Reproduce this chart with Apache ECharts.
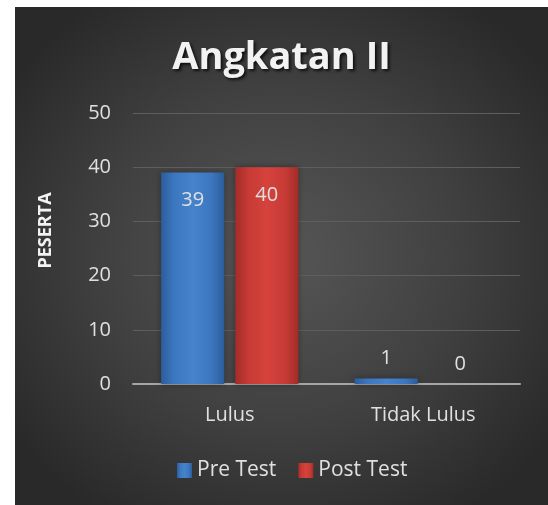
<!DOCTYPE html>
<html>
<head>
<meta charset="utf-8">
<script src="https://cdn.jsdelivr.net/npm/echarts@6/dist/echarts.min.js"></script>
<style>
html,body{margin:0;padding:0;background:#ffffff;width:548px;height:505px;overflow:hidden;}
#chart{position:absolute;left:15px;top:7px;width:533px;height:498px;
background:radial-gradient(ellipse 62% 62% at 50% 50%, #565656 0%, #404040 55%, #292929 100%);}
</style>
</head>
<body>
<div id="chart"></div>
<script>
const title = 'Angkatan II';
const categories = ['Lulus', 'Tidak Lulus'];
const seriesNames = ['Pre Test', 'Post Test'];
const preTest = [39, 1];
const postTest = [40, 0];
const yTicks = [0, 10, 20, 30, 40, 50];
const yAxisName = 'PESERTA';

const chart = echarts.init(document.getElementById('chart'), null, {renderer: 'canvas'});

function barColor(light, mid, dark) {
  return new echarts.graphic.LinearGradient(0, 0, 1, 0, [
    {offset: 0, color: dark},
    {offset: 0.2, color: mid},
    {offset: 0.5, color: light},
    {offset: 0.8, color: mid},
    {offset: 1, color: dark}
  ]);
}

function makeData(values) {
  return values.map(v => ({
    value: v,
    label: v > 5 ? {position: 'insideTop', distance: 18} : {position: 'top', distance: 10}
  }));
}

const labelStyle = {
  show: true,
  color: '#e0e0e0',
  fontSize: 20,
  fontFamily: 'Open Sans'
};

chart.setOption({
  backgroundColor: 'transparent',
  animation: false,
  title: {
    text: title,
    left: 'center',
    top: 27,
    textStyle: {
      color: '#f2f2f2',
      fontSize: 38,
      fontWeight: 'bold',
      fontFamily: 'Open Sans',
      textShadowColor: 'rgba(0,0,0,0.75)',
      textShadowBlur: 3,
      textShadowOffsetX: 2,
      textShadowOffsetY: 2
    }
  },
  legend: {
    data: seriesNames,
    left: 157,
    top: 448,
    icon: 'rect',
    itemWidth: 15,
    itemHeight: 15,
    itemGap: 22,
    textStyle: {color: '#e0e0e0', fontSize: 21, fontFamily: 'Open Sans'}
  },
  grid: {left: 118, right: 28, top: 106, bottom: 121, containLabel: false},
  xAxis: {
    type: 'category',
    data: categories,
    axisLine: {lineStyle: {color: '#a6a6a6', width: 2}},
    axisTick: {show: false},
    axisLabel: {color: '#e0e0e0', fontSize: 20, fontFamily: 'Open Sans', margin: 21}
  },
  yAxis: {
    type: 'value',
    min: yTicks[0],
    max: yTicks[yTicks.length - 1],
    interval: yTicks[1] - yTicks[0],
    name: yAxisName,
    nameLocation: 'middle',
    nameGap: 78,
    nameTextStyle: {color: '#f2f2f2', fontSize: 18, fontWeight: 'bold', fontFamily: 'Open Sans', padding: [0, 0, 0, 36]},
    axisLine: {show: false},
    axisTick: {show: false},
    axisLabel: {color: '#e0e0e0', fontSize: 20, fontFamily: 'Open Sans', margin: 22},
    splitLine: {lineStyle: {color: '#5e5e5e', width: 1}}
  },
  series: [
    {
      name: seriesNames[0],
      type: 'bar',
      data: makeData(preTest),
      barWidth: '32.6%',
      barGap: '17.5%',
      itemStyle: {
        color: barColor('#4683cd', '#3c76bf', '#2c5d9c'),
        shadowColor: 'rgba(0,0,0,0.35)',
        shadowBlur: 6
      },
      label: labelStyle
    },
    {
      name: seriesNames[1],
      type: 'bar',
      data: makeData(postTest),
      barWidth: '32.6%',
      barGap: '17.5%',
      itemStyle: {
        color: barColor('#d6423c', '#c63a35', '#a32c28'),
        shadowColor: 'rgba(0,0,0,0.35)',
        shadowBlur: 6
      },
      label: labelStyle
    }
  ]
});
</script>
</body>
</html>
